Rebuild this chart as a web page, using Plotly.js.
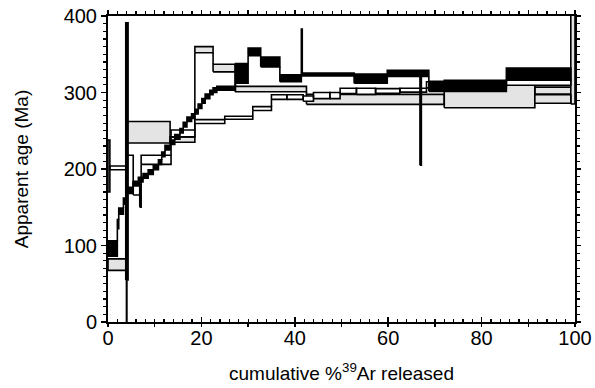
<!DOCTYPE html>
<html>
<head>
<meta charset="utf-8">
<script src="https://cdn.plot.ly/plotly-3.0.1.min.js"></script>
<style>html,body{margin:0;padding:0;background:#fff;}#chart{width:595px;height:388px;}</style>
</head>
<body>
<div id="chart"></div>
<script>
// ---- Data: step-heating age spectra (cumulative %39Ar edges, apparent age, 1-sigma half-height) ----
// Spectrum C (light-grey boxes)
const C_edges = [0, 4.0, 13.3, 18.6, 22.5, 27.2, 42.5, 72.0, 91.4, 99.1];
const C_age   = [75, 248, 238.5, 356, 332, 304.5, 291, 298, 302.5];
const C_err   = [7.5, 14, 3.5, 4, 5, 3.5, 6.5, 18, 4.5];
// Spectrum E (grey boxes, last steps)
const E_edges = [91.4, 99.1, 100];
const E_age   = [291.5, 367];
const E_err   = [5.5, 82];
// Spectrum B (open boxes)
const B_edges = [0, 0.4, 3.95, 4.05, 5.4, 6.8, 7.1, 13.5, 18.6, 25.0, 31.0, 35.0, 38.3, 41.8, 44.0, 47.5, 49.7, 53.2, 57.3, 62.5, 68.2, 85.3, 99.1];
const B_age   = [204, 201.5, 30, 194, 174, 165, 212, 246.5, 262, 267, 279, 294, 294, 292, 296, 296, 302, 301.5, 302, 303, 310, 313];
const B_err   = [34, 2.5, 30, 24, 8, 15, 6, 4.5, 2.5, 2, 2.5, 3, 3, 3.5, 4, 4, 3.5, 4, 3, 2.5, 4, 3.5];
// Spectrum A (solid black boxes)
const A_edges = [0, 2.0, 2.3, 3.3, 3.8, 4.3, 5.4, 6.5, 7.5, 8.6, 9.7, 10.8, 11.5, 12.2, 13.3, 14.3, 15.4, 16.1, 16.9, 17.9, 18.6, 19.3, 20.1, 20.8, 21.8, 22.5, 23.3, 27.3, 30.0, 32.7, 36.8, 41.4, 41.6, 52.7, 59.8, 66.8, 67.1, 68.7, 85.3, 99.1];
const A_age   = [96, 128, 145, 158, 223, 172, 181, 186, 191, 196, 202, 209, 219, 228, 235, 242, 250, 258, 265, 269, 275, 282, 289, 295, 300, 303, 305.5, 325, 353, 340, 318.5, 352.5, 323.5, 318, 325, 266.5, 325, 308, 324];
const A_err   = [10, 6, 4, 4, 168, 4, 3, 3, 3, 3, 3, 3, 3, 3, 3, 3, 3, 3, 3, 3, 3, 3, 3, 3, 3, 3, 2.5, 13, 5, 6.5, 4.5, 30.5, 1.8, 6, 4, 61.5, 4, 6.5, 8];

const xLabelVals = [0, 20, 40, 60, 80, 100];
const xMajorVals = [0, 10, 20, 30, 40, 50, 60, 70, 80, 90, 100];
const yTickVals = [0, 100, 200, 300, 400];

// ---- Build traces ----
function spectrumTraces(edges, age, err, fill, lw) {
  const bx = [], by = [], cx = [], cy = [];
  for (let i = 0; i < age.length; i++) {
    const x0 = edges[i], x1 = edges[i + 1], lo = age[i] - err[i], hi = age[i] + err[i];
    bx.push(x0, x1, x1, x0, x0, null);
    by.push(lo, lo, hi, hi, lo, null);
    if (i > 0) {
      const plo = age[i - 1] - err[i - 1], phi = age[i - 1] + err[i - 1];
      if (lo > phi) { cx.push(x0, x0, null); cy.push(phi, lo, null); }
      else if (hi < plo) { cx.push(x0, x0, null); cy.push(hi, plo, null); }
    }
  }
  return [
    {type: 'scatter', mode: 'lines', x: bx, y: by, fill: 'toself', fillcolor: fill,
     line: {color: '#000', width: lw}, hoverinfo: 'skip', connectgaps: false},
    {type: 'scatter', mode: 'lines', x: cx, y: cy,
     line: {color: '#000', width: lw}, hoverinfo: 'skip', connectgaps: false}
  ];
}

const traces = [].concat(
  spectrumTraces(C_edges, C_age, C_err, '#e4e4e4', 1.6),
  spectrumTraces(E_edges, E_age, E_err, '#e4e4e4', 1.6),
  spectrumTraces(B_edges, B_age, B_err, '#ffffff', 1.6),
  spectrumTraces(A_edges, A_age, A_err, '#000000', 1.6),
  [
    {type: 'scatter', x: [null], y: [null], xaxis: 'x2', yaxis: 'y', hoverinfo: 'skip'},
    {type: 'scatter', x: [null], y: [null], xaxis: 'x3', yaxis: 'y2', hoverinfo: 'skip'}
  ]
);

const font = 'Liberation Sans, Arial, Helvetica, sans-serif';
const layout = {
  width: 595, height: 388,
  margin: {l: 108, r: 20, t: 16, b: 66, pad: 0},
  paper_bgcolor: '#fff', plot_bgcolor: '#fff',
  showlegend: false, hovermode: false,
  font: {family: font, color: '#000', size: 20},
  xaxis: {
    range: [0, 100], showgrid: false, zeroline: false,
    showline: true, linecolor: '#000', linewidth: 2,
    tickmode: 'array', tickvals: xLabelVals,
    ticks: 'inside', ticklen: 5, tickwidth: 1.5, tickcolor: '#000',
    minor: {tickmode: 'linear', tick0: 0, dtick: 2, ticks: 'inside', ticklen: 3, tickwidth: 1.2, tickcolor: '#000'},
    ticklabelstandoff: -3,
    tickfont: {family: font, size: 20, color: '#000'},
    title: {text: 'cumulative %<sup>39</sup>Ar released', font: {family: font, size: 19, color: '#000'}, standoff: 19}
  },
  xaxis2: {
    overlaying: 'x', side: 'bottom', anchor: 'y', range: [0, 100],
    showgrid: false, zeroline: false, showline: false, showticklabels: false,
    tickmode: 'array', tickvals: xMajorVals, ticks: 'outside', ticklen: 4, tickwidth: 1.5, tickcolor: '#000'
  },
  xaxis3: {
    overlaying: 'x', side: 'top', anchor: 'y', range: [0, 100],
    showgrid: false, zeroline: false, showline: true, linecolor: '#000', linewidth: 2, showticklabels: false,
    tickmode: 'array', tickvals: xMajorVals, ticks: 'outside', ticklen: 4, tickwidth: 1.5, tickcolor: '#000',
    minor: {tickmode: 'linear', tick0: 0, dtick: 2, ticks: 'outside', ticklen: 3, tickwidth: 1.2, tickcolor: '#000'}
  },
  yaxis: {
    range: [0, 400], showgrid: false, zeroline: false,
    showline: true, linecolor: '#000', linewidth: 2,
    tickmode: 'array', tickvals: yTickVals,
    ticks: 'outside', ticklen: 5, tickwidth: 1.5, tickcolor: '#000',
    minor: {tickmode: 'linear', tick0: 0, dtick: 10, ticks: 'outside', ticklen: 3, tickwidth: 1.2, tickcolor: '#000'},
    tickfont: {family: font, size: 20, color: '#000'},
    title: {text: 'Apparent age (Ma)', font: {family: font, size: 19, color: '#000'}, standoff: 30}
  },
  yaxis2: {
    overlaying: 'y', side: 'right', anchor: 'x', range: [0, 400],
    showgrid: false, zeroline: false, showline: true, linecolor: '#000', linewidth: 2, showticklabels: false,
    tickmode: 'array', tickvals: yTickVals, ticks: 'outside', ticklen: 4, tickwidth: 1.5, tickcolor: '#000',
    minor: {tickmode: 'linear', tick0: 0, dtick: 10, ticks: 'outside', ticklen: 3, tickwidth: 1.2, tickcolor: '#000'}
  }
};

Plotly.newPlot('chart', traces, layout, {displayModeBar: false, staticPlot: true});
</script>
</body>
</html>
